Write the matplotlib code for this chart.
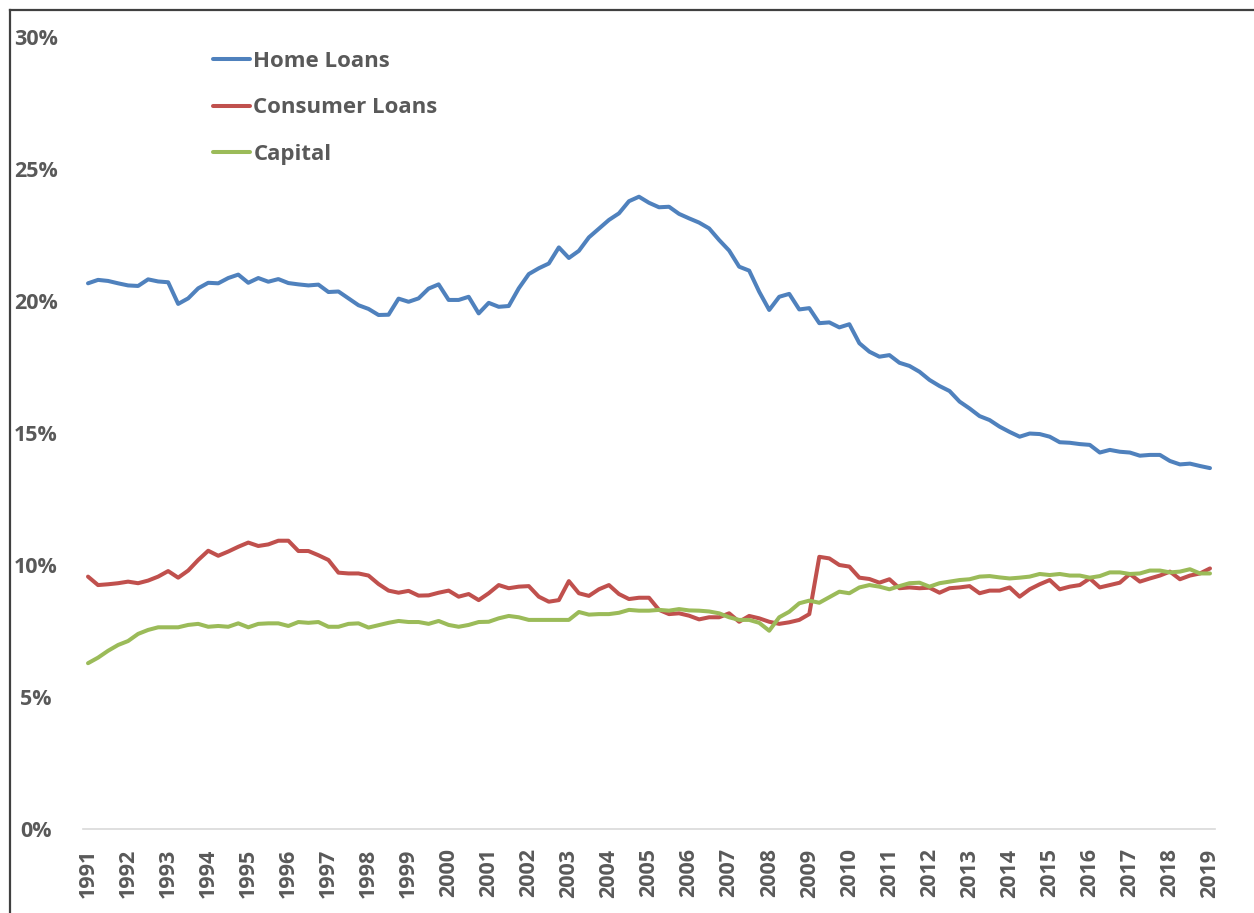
"""Home loans, consumer loans and capital as a share of assets, quarterly 1991-2019."""
import matplotlib
matplotlib.use("Agg")
import matplotlib.pyplot as plt
from matplotlib.lines import Line2D
from matplotlib.ticker import FuncFormatter

plt.rcParams["font.family"] = ["Open Sans", "DejaVu Sans"]

YEARS = list(range(1991, 2020))  # one label per year, data are quarterly

HOME_LOANS = [
    20.67, 20.80, 20.76, 20.67, 20.59, 20.57, 20.82, 20.74, 20.71, 19.89,
    20.10, 20.48, 20.69, 20.67, 20.87, 21.00, 20.69, 20.87, 20.73, 20.83,
    20.68, 20.63, 20.59, 20.62, 20.34, 20.36, 20.10, 19.84, 19.70, 19.47,
    19.48, 20.09, 19.97, 20.10, 20.47, 20.63, 20.04, 20.04, 20.16, 19.53,
    19.93, 19.78, 19.81, 20.48, 21.02, 21.24, 21.42, 22.03, 21.63, 21.90,
    22.41, 22.74, 23.07, 23.32, 23.78, 23.95, 23.72, 23.55, 23.57, 23.30,
    23.13, 22.97, 22.75, 22.31, 21.91, 21.30, 21.15, 20.35, 19.66, 20.16,
    20.27, 19.68, 19.73, 19.16, 19.19, 19.00, 19.12,
    18.40, 18.08, 17.89, 17.95, 17.66, 17.54, 17.32, 17.01, 16.78, 16.59,
    16.19, 15.93, 15.64, 15.49, 15.24, 15.04, 14.86, 14.98, 14.96, 14.86,
    14.65, 14.63, 14.58, 14.55, 14.26, 14.36, 14.29, 14.26, 14.14, 14.17,
    14.17, 13.94, 13.81, 13.84, 13.75, 13.67,
]
CONSUMER_LOANS = [
    9.56, 9.24, 9.27, 9.31, 9.37, 9.31, 9.41, 9.56, 9.77, 9.52,
    9.79, 10.19, 10.54, 10.35, 10.51, 10.69, 10.85, 10.72, 10.78, 10.92,
    10.92, 10.53, 10.53, 10.37, 10.19, 9.71, 9.68, 9.68, 9.60, 9.28,
    9.03, 8.95, 9.02, 8.84, 8.85, 8.95, 9.03, 8.80, 8.90, 8.67,
    8.93, 9.24, 9.12, 9.18, 9.20, 8.80, 8.61, 8.67, 9.39, 8.93,
    8.83, 9.08, 9.24, 8.90, 8.71, 8.76, 8.76, 8.30, 8.14, 8.17,
    8.08, 7.94, 8.02, 8.02, 8.17, 7.85, 8.07, 7.98, 7.85, 7.77,
    7.83, 7.92, 8.14, 10.31, 10.25, 10.00, 9.94,
    9.52, 9.47, 9.33, 9.46, 9.12, 9.15, 9.12, 9.14, 8.95, 9.12,
    9.15, 9.20, 8.93, 9.03, 9.03, 9.15, 8.80, 9.08, 9.27, 9.43,
    9.08, 9.18, 9.24, 9.49, 9.15, 9.24, 9.33, 9.66, 9.37, 9.49,
    9.60, 9.75, 9.46, 9.60, 9.68, 9.87,
]
CAPITAL = [
    6.28, 6.49, 6.75, 6.97, 7.12, 7.39, 7.54, 7.64, 7.64, 7.64,
    7.73, 7.77, 7.66, 7.69, 7.66, 7.79, 7.64, 7.77, 7.79, 7.79,
    7.69, 7.84, 7.81, 7.84, 7.66, 7.66, 7.77, 7.79, 7.63, 7.72,
    7.81, 7.88, 7.84, 7.84, 7.77, 7.88, 7.73, 7.66, 7.73, 7.84,
    7.85, 7.98, 8.07, 8.02, 7.92, 7.92, 7.92, 7.92, 7.92, 8.22,
    8.12, 8.14, 8.14, 8.19, 8.30, 8.27, 8.27, 8.30, 8.27, 8.33,
    8.28, 8.27, 8.24, 8.17, 8.02, 7.92, 7.92, 7.81, 7.51, 8.02,
    8.23, 8.55, 8.65, 8.57, 8.78, 8.99, 8.93,
    9.15, 9.24, 9.18, 9.08, 9.20, 9.31, 9.33, 9.18, 9.31, 9.37,
    9.43, 9.46, 9.56, 9.58, 9.53, 9.49, 9.52, 9.56, 9.66, 9.62,
    9.66, 9.60, 9.60, 9.52, 9.58, 9.72, 9.72, 9.66, 9.68, 9.79,
    9.79, 9.72, 9.75, 9.84, 9.68, 9.68,
]

SERIES = [("Home Loans", HOME_LOANS, "#4F81BD"),
          ("Consumer Loans", CONSUMER_LOANS, "#C0504D"),
          ("Capital", CAPITAL, "#9BBB59")]
TXT = "#595959"
W, H = 1254, 913

fig = plt.figure(figsize=(W / 100, H / 100), dpi=100)
ax = fig.add_axes([83 / W, 1 - 829 / H, (1215 - 83) / W, (829 - 37) / H])

for name, vals, col in SERIES:
    ax.plot(range(len(vals)), vals, color=col, lw=2.9, label=name,
            solid_capstyle="round", solid_joinstyle="round")

n = len(HOME_LOANS)
ax.set_xlim(-0.5, n - 0.5)
ax.set_ylim(0, 30)
ax.set_yticks(range(0, 31, 5))
ax.yaxis.set_major_formatter(FuncFormatter(lambda v, _: f"{v:.0f}%"))
ax.set_xticks(range(0, n, 4))
ax.set_xticklabels([str(y) for y in YEARS], rotation=90)

for s in ("top", "right", "left"):
    ax.spines[s].set_visible(False)
ax.spines["bottom"].set_color("#D9D9D9")
ax.spines["bottom"].set_linewidth(1.2)
ax.tick_params(axis="both", length=0, labelcolor=TXT, labelsize=15.5)
ax.tick_params(axis="y", pad=34)
ax.tick_params(axis="x", pad=14)
for lab in ax.get_yticklabels():
    lab.set_fontweight("bold")
    lab.set_horizontalalignment("center")
for lab in ax.get_xticklabels():
    lab.set_fontweight("bold")

leg = ax.legend(loc="upper left", bbox_to_anchor=(213 / W, 1 - 51 / H),
                bbox_transform=fig.transFigure, frameon=False, borderpad=0,
                borderaxespad=0, handlelength=1.68, handletextpad=0.14,
                labelspacing=1.14, prop={"weight": "bold", "size": 16})
for t in leg.get_texts():
    t.set_color(TXT)

# screenshot frame: top and left edges only
fig.add_artist(Line2D([10 / W, 1], [1 - 10 / H, 1 - 10 / H], color="#404040", lw=1.6))
fig.add_artist(Line2D([10 / W, 10 / W], [0, 1 - 10 / H], color="#404040", lw=1.6))

fig.savefig("out.png", dpi=100)
